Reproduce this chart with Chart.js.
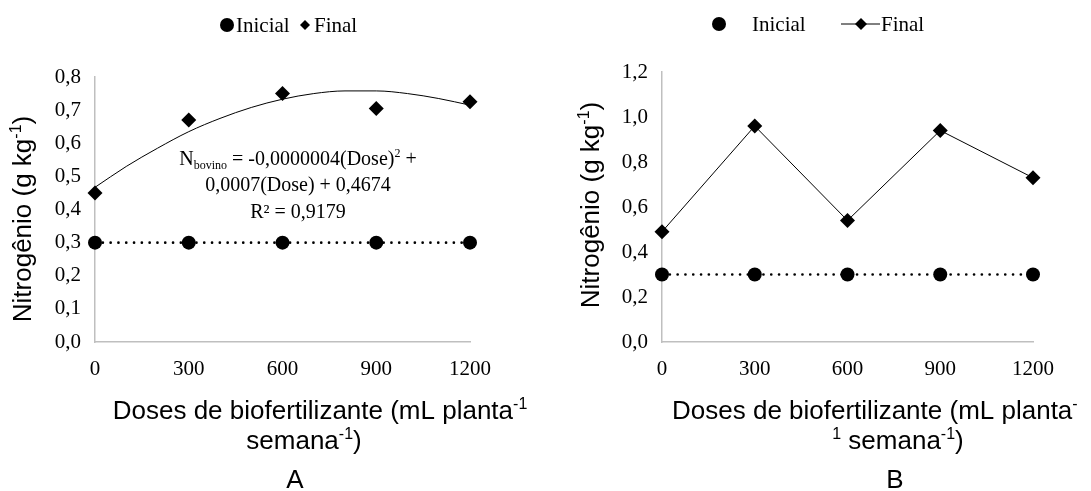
<!DOCTYPE html>
<html>
<head>
<meta charset="utf-8">
<script src="https://cdn.jsdelivr.net/npm/chart.js@4.4.1/dist/chart.umd.min.js"></script>
<style>
  html, body { margin: 0; padding: 0; background: #fff; }
  #wrap { position: relative; width: 1091px; height: 491px; }
  .box { position: absolute; top: 0; height: 491px; }
</style>
</head>
<body>
<div id="wrap">
  <div class="box" style="left:0;width:545px"><canvas id="graficoA"></canvas></div>
  <div class="box" style="left:545px;width:546px"><canvas id="graficoB"></canvas></div>
</div>
<script>
// dados
const doses = [0, 300, 600, 900, 1200];
const xTicks = [0, 300, 600, 900, 1200];

const inicialA = [0.30, 0.30, 0.30, 0.30, 0.30];
const finalA = [0.45, 0.67, 0.75, 0.705, 0.725];
// curva de ajuste
const ajusteDoses = [0, 100, 200, 300, 400, 500, 600, 700, 800, 900, 1000, 1100, 1200];
const ajusteA = [0.467, 0.530, 0.585, 0.635, 0.675, 0.708, 0.733, 0.750, 0.758, 0.758, 0.750, 0.735, 0.715];
const yTicksA = [0, 0.1, 0.2, 0.3, 0.4, 0.5, 0.6, 0.7, 0.8];

const inicialB = [0.30, 0.30, 0.30, 0.30, 0.30];
const finalB = [0.49, 0.96, 0.54, 0.94, 0.73];
const yTicksB = [0, 0.2, 0.4, 0.6, 0.8, 1.0, 1.2];

const SERIF = '"Liberation Serif", "Times New Roman", serif';
const SANS = '"Liberation Sans", Arial, sans-serif';
const CINZA = '#bfbfbf';

function pares(xs, ys) {
  return xs.map((x, i) => ({ x: x, y: ys[i] }));
}

// texto com sobrescrito/subscrito
function textoRico(ctx, partes, x, y, align, tam, fam) {
  const peq = Math.round(tam * 0.62);
  let w = 0;
  partes.forEach(p => {
    ctx.font = (p[1] ? peq : tam) + 'px ' + fam;
    w += ctx.measureText(p[0]).width;
  });
  let cx = align === 'center' ? x - w / 2 : x;
  ctx.textAlign = 'left';
  ctx.textBaseline = 'alphabetic';
  partes.forEach(p => {
    ctx.font = (p[1] ? peq : tam) + 'px ' + fam;
    let dy = 0;
    if (p[1] === 'sup') dy = -tam * 0.38;
    if (p[1] === 'sub') dy = tam * 0.22;
    ctx.fillText(p[0], cx, y + dy);
    cx += ctx.measureText(p[0]).width;
  });
}

function diamante(ctx, x, y, r) {
  ctx.beginPath();
  ctx.moveTo(x, y - r); ctx.lineTo(x + r, y); ctx.lineTo(x, y + r); ctx.lineTo(x - r, y);
  ctx.closePath();
  ctx.fill();
}

function escalas(yTicks, yMax, esq, alt) {
  return {
    x: {
      type: 'linear', min: 0, max: 1200,
      afterBuildTicks: s => { s.ticks = xTicks.map(v => ({ value: v })); },
      afterFit: s => { s.height = alt; },
      grid: { display: false, drawTicks: false },
      border: { display: true, color: CINZA, width: 1.5 },
      ticks: { color: '#000', font: { family: SERIF, size: 21 }, padding: 15, maxRotation: 0,
        callback: v => String(v) }
    },
    y: {
      type: 'linear', min: 0, max: yMax,
      afterBuildTicks: s => { s.ticks = yTicks.map(v => ({ value: v })); },
      afterFit: s => { s.width = esq; },
      grid: { display: false, drawTicks: false },
      border: { display: true, color: CINZA, width: 1.5 },
      ticks: { color: '#000', font: { family: SERIF, size: 21 }, padding: 14,
        callback: v => v.toFixed(1).replace('.', ',') }
    }
  };
}

const serieInicial = dados => ({
  label: 'Inicial', data: dados, borderColor: '#000', backgroundColor: '#000',
  borderWidth: 2.6, borderDash: [0.1, 7.7], borderCapStyle: 'round',
  pointStyle: 'circle', pointRadius: 7, pointBorderWidth: 0, clip: false, order: 1
});

// Gráfico A
new Chart(document.getElementById('graficoA'), {
  type: 'line',
  data: {
    datasets: [
      serieInicial(pares(doses, inicialA)),
      { label: 'Final', data: pares(doses, finalA), showLine: false, backgroundColor: '#000',
        borderColor: '#000', pointStyle: 'rectRot', pointRadius: 7.5, pointBorderWidth: 0, clip: false, order: 0 },
      { label: 'Ajuste', data: pares(ajusteDoses, ajusteA), borderColor: '#000', borderWidth: 1,
        pointRadius: 0, cubicInterpolationMode: 'monotone', clip: false, order: 2 }
    ]
  },
  options: {
    responsive: true, maintainAspectRatio: false, animation: false,
    layout: { padding: { top: 77, right: 75, left: 0, bottom: 0 } },
    plugins: { legend: { display: false }, tooltip: { enabled: false } },
    scales: escalas(yTicksA, 0.8, 95, 149)
  },
  plugins: [{
    id: 'textosA',
    afterDraw(chart) {
      const ctx = chart.ctx;
      ctx.save();
      ctx.fillStyle = '#000';
      // legenda
      ctx.beginPath(); ctx.arc(227, 25, 7, 0, Math.PI * 2); ctx.fill();
      textoRico(ctx, [['Inicial']], 236, 32, 'left', 21, SERIF);
      diamante(ctx, 305, 25, 5);
      textoRico(ctx, [['Final']], 314, 32, 'left', 21, SERIF);
      // equação
      textoRico(ctx, [['N'], ['bovino', 'sub'], [' = -0,0000004(Dose)'], ['2', 'sup'], [' +']], 298, 165, 'center', 20, SERIF);
      textoRico(ctx, [['0,0007(Dose) + 0,4674']], 298, 191, 'center', 20, SERIF);
      textoRico(ctx, [['R² = 0,9179']], 298, 218, 'center', 20, SERIF);
      // título eixo y
      ctx.translate(22, 219);
      ctx.rotate(-Math.PI / 2);
      textoRico(ctx, [['Nitrogênio (g kg'], ['-1', 'sup'], [')']], 0, 9, 'center', 26, SANS);
      ctx.setTransform(1, 0, 0, 1, 0, 0);
      // título eixo x
      textoRico(ctx, [['Doses de biofertilizante (mL planta'], ['-1', 'sup']], 320, 419, 'center', 26, SANS);
      textoRico(ctx, [['semana'], ['-1', 'sup'], [')']], 304, 449, 'center', 26, SANS);
      textoRico(ctx, [['A']], 295, 488, 'center', 26, SANS);
      ctx.restore();
    }
  }]
});

// Gráfico B
new Chart(document.getElementById('graficoB'), {
  type: 'line',
  data: {
    datasets: [
      serieInicial(pares(doses, inicialB)),
      { label: 'Final', data: pares(doses, finalB), borderColor: '#000', backgroundColor: '#000',
        borderWidth: 1, pointStyle: 'rectRot', pointRadius: 7.5, pointBorderWidth: 0, clip: false, order: 0 }
    ]
  },
  options: {
    responsive: true, maintainAspectRatio: false, animation: false,
    layout: { padding: { top: 72, right: 58, left: 0, bottom: 0 } },
    plugins: { legend: { display: false }, tooltip: { enabled: false } },
    scales: escalas(yTicksB, 1.2, 117, 149)
  },
  plugins: [{
    id: 'textosB',
    afterDraw(chart) {
      const ctx = chart.ctx;
      ctx.save();
      ctx.fillStyle = '#000';
      ctx.strokeStyle = '#000';
      // legenda
      ctx.beginPath(); ctx.arc(174, 24, 7, 0, Math.PI * 2); ctx.fill();
      textoRico(ctx, [['Inicial']], 207, 31, 'left', 21, SERIF);
      ctx.lineWidth = 1;
      ctx.beginPath(); ctx.moveTo(296, 24); ctx.lineTo(335, 24); ctx.stroke();
      diamante(ctx, 316, 24, 6);
      textoRico(ctx, [['Final']], 336, 31, 'left', 21, SERIF);
      // título eixo y
      ctx.translate(45, 205);
      ctx.rotate(-Math.PI / 2);
      textoRico(ctx, [['Nitrogênio (g kg'], ['-1', 'sup'], [')']], 0, 9, 'center', 26, SANS);
      ctx.setTransform(1, 0, 0, 1, 0, 0);
      // título eixo x
      textoRico(ctx, [['Doses de biofertilizante (mL planta'], ['-', 'sup']], 127, 419, 'left', 26, SANS);
      textoRico(ctx, [['1', 'sup'], [' semana'], ['-1', 'sup'], [')']], 353, 449, 'center', 26, SANS);
      textoRico(ctx, [['B']], 350, 488, 'center', 26, SANS);
      ctx.restore();
    }
  }]
});
</script>
</body>
</html>
